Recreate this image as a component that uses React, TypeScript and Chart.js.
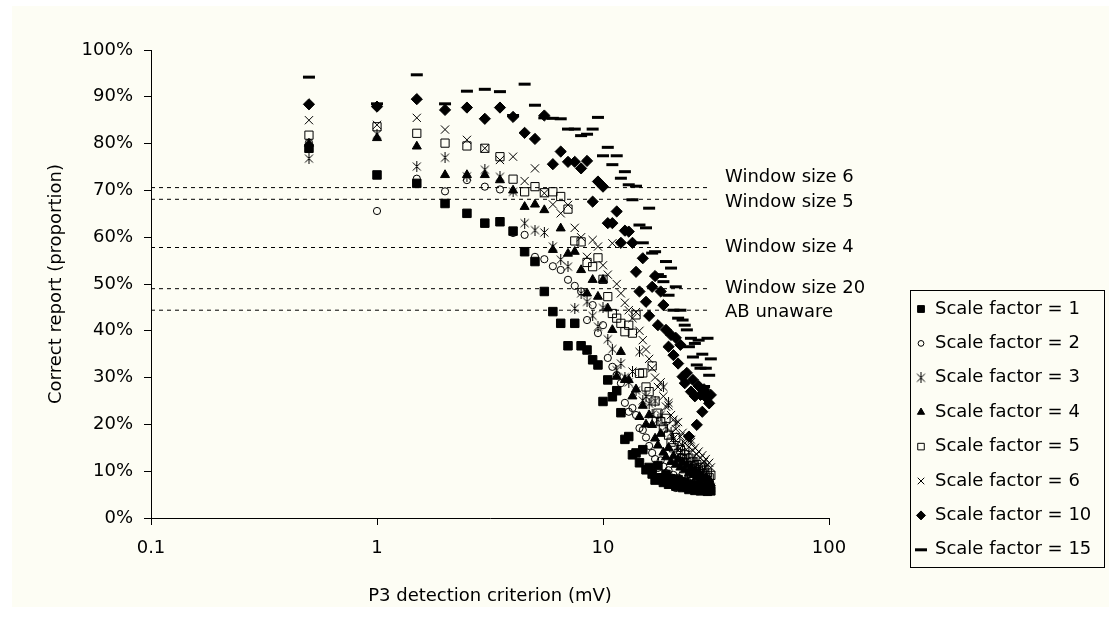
import React, { useEffect, useRef } from 'react';
import { Chart, registerables } from 'chart.js';
import { drawPoint } from 'chart.js/helpers';

Chart.register(...registerables);

// ---------------- data ----------------
const criterion = [
  0.5, 1, 1.5, 2, 2.5, 3, 3.5, 4, 4.5, 5,
  5.5, 6, 6.5, 7, 7.5, 8, 8.5, 9, 9.5, 10,
  10.5, 11, 11.5, 12, 12.5, 13, 13.5, 14, 14.5, 15,
  15.5, 16, 16.5, 17, 17.5, 18, 18.5, 19, 19.5, 20,
  20.5, 21, 21.5, 22, 22.5, 23, 23.5, 24, 24.5, 25,
  25.5, 26, 26.5, 27, 27.5, 28, 28.5, 29, 29.5, 30,
];

const sf1 = [
  79, 73.3, 71.5, 67.2, 65.1, 63, 63.3, 61.3, 56.9, 54.8,
  48.4, 44.1, 41.6, 36.8, 41.6, 36.8, 35.9, 33.8, 32.7, 24.9,
  29.5, 25.9, 27.2, 22.5, 16.8, 17.4, 13.5, 13.9, 11.8, 14.6,
  10.3, 10.8, 9.4, 8.1, 11.2, 8.6, 7.6, 9.3, 7.2, 8.4,
  7.4, 6.8, 8.2, 7.1, 6.5, 7.7, 6.6, 6.1, 7.2, 6.4,
  5.9, 6.9, 6.2, 5.8, 6.6, 6.0, 6.3, 5.7, 6.1, 5.8,
];
const sf2 = [
  80.2, 65.6, 72.5, 69.8, 72.2, 70.8, 70.2, 60.9, 60.5, 55.8,
  55.3, 53.8, 53.0, 50.9, 49.6, 48.4, 42.3, 45.5, 39.5, 41.2,
  34.2, 32.3, 30.5, 28.8, 24.6, 22.7, 23.5, 22.0, 19.2, 18.8,
  17.2, 15.4, 13.9, 12.6, 10.7, 12.3, 11.0, 9.6, 10.2, 8.7,
  9.2, 6.4, 8.6, 7.8, 9.4, 7.2, 8.1, 7.0, 8.8, 6.9,
  7.6, 7.1, 8.2, 6.8, 7.4, 6.6, 7.9, 6.5, 7.2, 6.8,
];
const sf3 = [
  76.8, 82.0, 75.1, 77.0, 73.0, 74.4, 72.9, 69.7, 63.0, 61.5,
  61.0, 58.0, 55.2, 53.7, 44.8, 48.0, 46.2, 43.2, 40.9, 44.9,
  38.2, 36.1, 31.6, 33.0, 30.1, 29.0, 31.3, 27.2, 35.5, 25.1,
  26.0, 24.4, 22.1, 25.0, 21.0, 22.0, 28.0, 19.5, 24.6, 18.2,
  17.0, 20.3, 15.2, 14.0, 15.5, 13.1, 12.2, 14.0, 16.7, 11.6,
  12.4, 10.6, 11.0, 9.8, 10.2, 9.0, 10.9, 8.2, 7.6, 6.6,
];
const sf4 = [
  80.0, 81.2, 79.4, 73.3, 73.3, 73.3, 72.2, 70.0, 66.5, 67.0,
  65.8, 57.3, 61.9, 56.5, 56.9, 53.0, 48.0, 50.9, 47.3, 50.9,
  44.8, 40.2, 30.2, 35.5, 29.5, 29.5, 26.0, 27.5, 21.6, 24.0,
  20.0, 22.0, 19.9, 17.0, 15.5, 18.0, 14.0, 13.0, 15.0, 12.0,
  13.2, 11.4, 12.6, 10.8, 11.9, 10.2, 11.3, 9.6, 10.7, 9.2,
  10.1, 8.8, 9.6, 8.4, 9.0, 8.1, 8.6, 7.7, 8.2, 7.4,
];
const sf5 = [
  81.8, 83.6, 82.2, 80.1, 79.5, 79.0, 77.2, 72.4, 69.7, 70.8,
  69.5, 69.7, 68.7, 66.0, 59.2, 59.0, 54.6, 53.7, 55.6, 51.0,
  47.3, 43.7, 42.7, 41.6, 39.8, 41.2, 39.5, 43.4, 30.9, 31.0,
  28.0, 27.0, 32.5, 25.0, 22.4, 20.6, 19.2, 21.3, 17.7, 16.2,
  15.0, 17.2, 13.8, 14.6, 12.7, 13.5, 11.9, 12.8, 11.2, 12.0,
  10.6, 11.4, 10.0, 10.8, 9.5, 10.2, 9.0, 9.6, 8.6, 9.1,
];
const sf6 = [
  85.0, 84.0, 85.5, 83.0, 80.8, 79.0, 76.5, 77.2, 72.0, 74.7,
  69.4, 67.0, 65.1, 66.9, 62.0, 60.0, 55.8, 59.4, 58.0, 54.0,
  52.0, 58.7, 50.0, 48.0, 46.0, 44.4, 42.7, 44.0, 40.0, 38.0,
  36.0, 34.0, 32.0, 30.0, 28.0, 29.0, 26.0, 23.8, 24.0, 22.0,
  21.0, 19.0, 20.5, 17.4, 18.2, 16.0, 17.0, 15.2, 16.2, 14.4,
  15.0, 13.6, 14.2, 12.8, 13.4, 12.0, 12.6, 11.4, 11.8, 10.8,
];
const sf10 = [
  88.4, 87.9, 89.5, 87.2, 87.7, 85.3, 87.7, 85.7, 82.3, 81.0,
  86.0, 75.6, 78.3, 76.1, 76.1, 74.7, 76.3, 67.6, 71.9, 70.8,
  63.0, 63.0, 65.5, 58.8, 61.4, 61.2, 58.8, 52.6, 48.4, 55.5,
  46.2, 43.2, 49.4, 51.7, 41.2, 48.4, 45.5, 40.2, 36.6, 39.1,
  34.8, 38.5, 33.0, 37.0, 30.2, 28.8, 31.0, 17.4, 27.0, 29.5,
  26.0, 19.9, 28.2, 26.3, 22.7, 27.5, 25.8, 26.3, 24.5, 26.3,
];
const sf15 = [
  94.2, 88.5, 94.7, 88.5, 91.2, 91.6, 91.1, 86.0, 92.7, 88.2,
  85.5, 85.4, 85.3, 83.1, 83.1, 81.7, 82.0, 83.1, 85.6, 77.4,
  79.2, 75.5, 77.4, 72.6, 74.0, 71.2, 68.0, 70.9, 62.6, 58.8,
  62.0, 66.2, 56.6, 56.9, 52.0, 51.6, 50.5, 54.8, 47.6, 53.4,
  44.4, 49.4, 42.7, 44.4, 42.3, 41.2, 40.2, 36.6, 38.4, 34.4,
  37.3, 32.7, 38.0, 32.0, 35.0, 28.1, 32.0, 38.4, 30.5, 34.0,
];

const seriesLabels = [
  'Scale factor = 1', 'Scale factor = 2', 'Scale factor = 3', 'Scale factor = 4',
  'Scale factor = 5', 'Scale factor = 6', 'Scale factor = 10', 'Scale factor = 15',
];
const seriesValues = [sf1, sf2, sf3, sf4, sf5, sf6, sf10, sf15];

const windowLabels = ['Window size 6', 'Window size 5', 'Window size 4', 'Window size 20', 'AB unaware'];
const windowValues = [70.6, 68.1, 57.8, 49.0, 44.4];
const windowLineRange = [0.1, 29];

const xTickValues = [0.1, 1, 10, 100];

// ---------------- styling ----------------
const FONT = '"DejaVu Sans", "Liberation Sans", sans-serif';
const BG = '#fdfdf4';
const labelShift = [-10, 3, 0, 0, 2];

function makeAsterisk(): HTMLCanvasElement {
  const c = document.createElement('canvas');
  c.width = 11;
  c.height = 11;
  const g = c.getContext('2d')!;
  g.strokeStyle = '#000';
  g.lineWidth = 1;
  g.beginPath();
  g.moveTo(1.5, 1.5); g.lineTo(9.5, 9.5);
  g.moveTo(9.5, 1.5); g.lineTo(1.5, 9.5);
  g.moveTo(5.5, 0); g.lineTo(5.5, 11);
  g.stroke();
  return c;
}

type Marker = { style: any; radius: number; fill: string; bw: number };

export default function App() {
  const ref = useRef<HTMLCanvasElement | null>(null);

  useEffect(() => {
    if (!ref.current) return;
    const asterisk = makeAsterisk();
    const markers: Marker[] = [
      { style: 'rect', radius: 6, fill: '#000', bw: 1 },
      { style: 'circle', radius: 3.6, fill: 'rgba(0,0,0,0)', bw: 1 },
      { style: asterisk, radius: 5, fill: '#000', bw: 1 },
      { style: 'triangle', radius: 5.2, fill: '#000', bw: 1 },
      { style: 'rect', radius: 5.8, fill: 'rgba(0,0,0,0)', bw: 1 },
      { style: 'crossRot', radius: 5.8, fill: '#000', bw: 1 },
      { style: 'rectRot', radius: 5.6, fill: '#000', bw: 1 },
      { style: 'line', radius: 6, fill: '#000', bw: 3 },
    ];

    const scatterSets = seriesValues.map((vals, i) => ({
      type: 'scatter' as const,
      label: seriesLabels[i],
      data: criterion.map((x, j) => ({ x, y: vals[j] })),
      pointStyle: markers[i].style,
      pointRadius: markers[i].radius,
      pointHoverRadius: markers[i].radius,
      pointBackgroundColor: markers[i].fill,
      pointBorderColor: '#000',
      pointBorderWidth: markers[i].bw,
      showLine: false,
      order: 10 - i,
    }));

    const lineSets = windowValues.map((v, i) => ({
      type: 'line' as const,
      label: windowLabels[i],
      data: windowLineRange.map((x) => ({ x, y: v })),
      borderColor: '#000',
      borderWidth: 1,
      borderDash: [4, 4],
      pointRadius: 0,
      fill: false,
      order: 20,
    }));

    const decor = {
      id: 'decor',
      beforeDraw(chart: any) {
        const { ctx, width, height } = chart;
        ctx.save();
        ctx.fillStyle = '#ffffff';
        ctx.fillRect(0, 0, width, height);
        ctx.fillStyle = BG;
        ctx.fillRect(12, 6, width - 12, 601);
        ctx.restore();
      },
      afterDraw(chart: any) {
        const { ctx } = chart;
        const yScale = chart.scales.y;
        ctx.save();
        ctx.font = `18px ${FONT}`;
        ctx.fillStyle = '#000';
        ctx.textBaseline = 'middle';
        ctx.textAlign = 'left';
        windowLabels.forEach((t, i) => {
          ctx.fillText(t, 725, yScale.getPixelForValue(windowValues[i]) + labelShift[i]);
        });

        // legend box
        ctx.fillStyle = BG;
        ctx.fillRect(910, 290, 194, 278);
        ctx.strokeStyle = '#000';
        ctx.lineWidth = 1;
        ctx.strokeRect(910.5, 290.5, 194, 277);
        seriesLabels.forEach((lab, i) => {
          const cy = 309 + i * 34.4;
          const m = markers[i];
          ctx.save();
          ctx.fillStyle = m.fill;
          ctx.strokeStyle = '#000';
          ctx.lineWidth = m.bw;
          drawPoint(ctx, {
            pointStyle: m.style,
            radius: m.style === 'line' ? m.radius : m.radius * 0.8,
            rotation: 0,
            borderWidth: m.bw,
          } as any, 921, cy);
          ctx.restore();
          ctx.fillStyle = '#000';
          ctx.font = `18px ${FONT}`;
          ctx.textBaseline = 'middle';
          ctx.textAlign = 'left';
          ctx.fillText(lab, 935, cy);
        });
        ctx.restore();
      },
    };

    const font = { family: FONT, size: 18 };

    const chart = new Chart(ref.current, {
      type: 'scatter',
      data: { datasets: [...scatterSets, ...lineSets] as any },
      options: {
        responsive: false,
        animation: false,
        devicePixelRatio: 1,
        events: [],
        layout: { padding: { left: 0, right: 280, top: 50, bottom: 0 } },
        plugins: {
          legend: { display: false },
          tooltip: { enabled: false },
        },
        scales: {
          x: {
            type: 'logarithmic',
            min: 0.1,
            max: 100,
            afterBuildTicks: (s: any) => {
              s.ticks = xTickValues.map((v) => ({ value: v }));
            },
            afterFit: (s: any) => {
              s.height = 110;
            },
            ticks: {
              autoSkip: false,
              maxRotation: 0,
              color: '#000',
              font,
              padding: 13,
              callback: (v: any) => String(v),
            },
            grid: { drawOnChartArea: false, drawTicks: true, tickLength: 7, color: '#000' },
            border: { display: true, color: '#000', width: 1 },
            title: {
              display: true,
              text: 'P3 detection criterion (mV)',
              color: '#000',
              font,
              padding: { top: 0, bottom: 21 },
            },
          },
          y: {
            min: 0,
            max: 100,
            afterFit: (s: any) => {
              s.width = 151;
            },
            ticks: {
              stepSize: 10,
              color: '#000',
              font,
              padding: 11,
              callback: (v: any) => `${v}%`,
            },
            grid: { drawOnChartArea: false, drawTicks: true, tickLength: 7, color: '#000' },
            border: { display: true, color: '#000', width: 1 },
            title: {
              display: true,
              text: 'Correct report (proportion)',
              color: '#000',
              font,
              padding: { top: 46, bottom: 0 },
            },
          },
        },
      } as any,
      plugins: [decor],
    });

    return () => chart.destroy();
  }, []);

  return (
    <div style={{ position: 'fixed', left: 0, top: 0, width: 1109, height: 628 }}>
      <canvas ref={ref} width={1109} height={628} style={{ display: 'block' }} />
    </div>
  );
}
